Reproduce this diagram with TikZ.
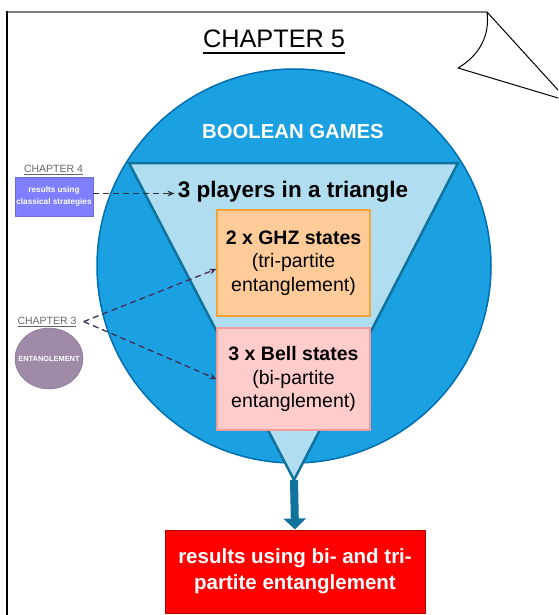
\documentclass[tikz,border=0pt]{standalone}
\usepackage{fontspec}
\setmainfont{Liberation Sans}
\usetikzlibrary{arrows.meta, positioning, shapes.geometric}
\definecolor{gameblue}{HTML}{1BA1E2}
\definecolor{gameline}{HTML}{006EAF}
\definecolor{trifill}{HTML}{B1DDF0}
\definecolor{triline}{HTML}{10739E}
\definecolor{ghzfill}{HTML}{FFCC99}
\definecolor{ghzline}{HTML}{F2A33A}
\definecolor{bellfill}{HTML}{FFCCCC}
\definecolor{bellline}{HTML}{F19C99}
\definecolor{resred}{HTML}{FF0000}
\definecolor{resline}{HTML}{B20000}
\definecolor{classfill}{HTML}{7F7FFF}
\definecolor{classline}{HTML}{6C6CD8}
\definecolor{entfill}{HTML}{9F8BA8}
\definecolor{entline}{HTML}{7C6A8C}
\definecolor{chgray}{HTML}{666666}
\definecolor{dashgray}{HTML}{333333}
\definecolor{dashpurple}{HTML}{432D57}
% text with a rule under it: #1 thickness, #2 gap below baseline, #3 text
\newcommand{\chapterbar}[3]{%
  \setbox0=\hbox{#3}%
  \rlap{\vrule width\wd0 height -#2 depth \dimexpr#2+#1\relax}\box0}

\begin{document}
\begin{tikzpicture}[
  x=1pt, y=-1pt,
  chlabel/.style={text=chgray, anchor=base, inner sep=0pt, font=\fontsize{10.5}{12}\selectfont},
  smallbox/.style={text=white, align=center, inner sep=1pt, font=\bfseries\fontsize{8.2}{11.7}\selectfont},
  statebox/.style={line width=1.2pt, minimum width=153pt, align=center, font=\fontsize{19.5}{23.5}\selectfont},
  dasharrow/.style={line width=1.3pt, dash pattern=on 6pt off 4pt, -{Stealth[length=7pt,width=6pt]}}
]
  \useasboundingbox (0,0) rectangle (558,615);
  \fill[white] (0,0) rectangle (558,615);
  % page with folded corner
  \draw[gray, line width=2pt] (7,12) -- (487,12);
  \draw[black, line width=1.2pt] (7,11) -- (7,615);
  \begin{scope}
    \clip (0,0) rectangle (558,615);
    \draw[line width=1pt, line join=round] (487,12) .. controls (490,35) and (480,55) .. (458,68) -- (568,101) -- cycle;
  \end{scope}
  \node[anchor=base, inner sep=0pt, font=\fontsize{25.3}{30}\selectfont] (title) at (274,48) {\chapterbar{2pt}{3.7pt}{CHAPTER 5}};

  % boolean games circle and triangle
  \node[circle, fill=gameblue, draw=gameline, line width=1.5pt, minimum size=394pt, inner sep=0pt] (games) at (294,266) {};
  \node[text=white, anchor=base, font=\bfseries\fontsize{20.3}{24}\selectfont] (gameslabel) at (293,139) {BOOLEAN GAMES};
  \coordinate (tl) at (129,163);
  \coordinate (tr) at (458,163);
  \coordinate (apex) at (294,480);
  \draw[fill=trifill, draw=triline, line width=2.5pt] (tl) -- (tr) -- (apex) -- cycle;
  \node[anchor=base, font=\bfseries\fontsize{22.5}{26}\selectfont] (players) at (293,197) {3 players in a triangle};
  \node[statebox, fill=ghzfill, draw=ghzline, minimum height=106pt] (ghz) at (293.5,263) {\textbf{2 x GHZ states}\\(tri-partite\\entanglement)};
  \node[statebox, fill=bellfill, draw=bellline, minimum height=102pt] (bell) at (293.5,379) {\textbf{3 x Bell states}\\(bi-partite\\entanglement)};

  % result
  \node[fill=resred, draw=resline, line width=1pt, minimum width=260pt, minimum height=83pt, text=white, align=center, font=\bfseries\fontsize{20.5}{26}\selectfont] (results) at (295,571.5) {results using bi- and tri-\\partite entanglement};
  \draw[triline, line width=8pt, -{Triangle[width=22pt,length=11pt]}] (apex) -- (results.north);

  % earlier chapters
  \node[chlabel] (ch4) at (53.5,172) {\chapterbar{1pt}{1.5pt}{CHAPTER 4}};
  \node[smallbox, fill=classfill, draw=classline, minimum width=78pt, minimum height=39pt] (classical) at (54,196.5) {results using\\classical strategies};
  \node[chlabel] (ch3) at (47,324) {\chapterbar{1pt}{1.5pt}{CHAPTER 3}};
  \node[ellipse, fill=entfill, draw=entline, minimum width=68pt, minimum height=61pt, inner xsep=-7pt, inner ysep=0pt, text=white, font=\bfseries\fontsize{7.4}{9}\selectfont] (entangle) at (49,358.5) {ENTANGLEMENT};

  \draw[dasharrow, dashgray] ([yshift=3pt]classical.east) -- ([yshift=3pt]classical.east -| players.west);
  \draw[dasharrow, dashpurple] ([xshift=7pt]ch3.east) -- ([yshift=-6pt]ghz.west);
  \draw[dasharrow, dashpurple] ([xshift=7pt]ch3.east) -- (bell.west);
\end{tikzpicture}
\end{document}
